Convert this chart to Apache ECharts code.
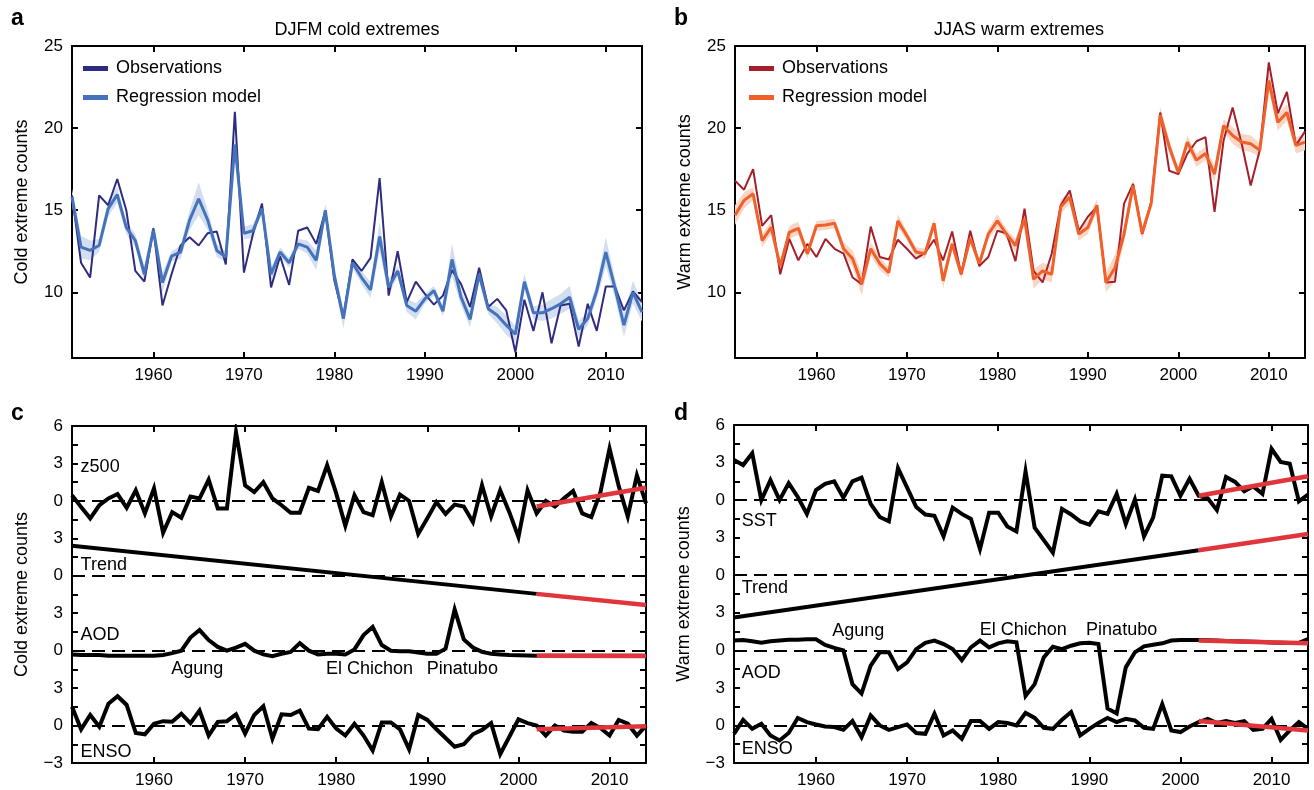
<!DOCTYPE html>
<html><head><meta charset="utf-8">
<script src="https://cdn.jsdelivr.net/npm/echarts@6/dist/echarts.min.js"></script>
<style>html,body{margin:0;padding:0;background:#fff}#c{width:1314px;height:790px}</style>
</head><body><div id="c"></div>
<script>
const FONT = "'Liberation Sans', Arial, Helvetica, sans-serif";
const years = []; for (let y = 1951; y <= 2014; y++) years.push(y);
const xTicks = [1960, 1970, 1980, 1990, 2000, 2010];
const abTicks = [10, 15, 20, 25];
const cdTickLabels = ['−3', '0', '3', '0', '3', '0', '3', '0', '3', '6'];

// Panel a: DJFM cold extremes
const coldObs = [15.9,11.8,10.9,15.9,15.3,16.9,15.0,11.3,10.65,13.9,
 9.2,11.1,12.85,13.35,12.85,13.6,13.7,11.7,21.0,11.2,
 13.55,15.4,10.3,12.2,10.45,13.75,13.95,12.95,14.95,10.7,
 8.5,12.0,11.3,12.1,16.95,9.8,12.5,9.4,10.65,9.9,
 9.25,9.8,11.35,10.5,9.1,11.5,9.1,9.6,8.9,6.35,
 9.55,7.65,10.0,6.9,9.2,9.3,6.7,9.3,7.65,10.35,
 10.35,8.9,10.05,9.4];
const coldReg = [15.8,12.75,12.55,12.85,15.1,15.95,13.95,13.15,11.1,13.8,
 10.6,12.2,12.45,14.4,15.7,14.4,12.55,12.15,19.0,13.6,
 13.75,15.1,11.1,12.45,11.8,12.95,12.75,11.95,15.0,11.0,
 8.4,11.8,10.9,10.15,13.4,10.3,11.3,9.2,8.85,9.6,
 10.1,8.85,12.0,9.7,8.35,11.1,9.0,8.6,8.0,7.45,
 10.65,8.75,8.75,9.0,9.3,9.7,7.75,8.4,10.1,12.45,
 10.3,8.0,10.0,8.8];
const coldUnc = [0.5,0.7,0.6,0.4,0.5,0.5,0.4,0.4,0.5,0.3,
 0.6,0.3,0.4,0.6,1.0,0.6,0.4,0.3,0.6,0.4,
 0.4,0.3,0.4,0.3,0.3,0.3,0.4,0.6,0.4,0.4,
 0.6,0.3,0.4,0.5,0.9,0.5,0.3,0.4,0.5,0.3,
 0.3,0.3,1.0,0.5,0.5,0.4,0.3,0.5,0.6,0.5,
 0.5,0.4,0.5,0.6,0.6,0.7,0.5,0.4,0.5,0.9,
 0.6,0.7,0.7,0.6];

// Panel b: JJAS warm extremes
const warmObs = [16.8,16.25,17.5,14.05,14.7,11.1,13.25,11.95,12.95,12.15,
 13.25,12.65,12.35,10.9,10.5,14.0,12.15,12.0,13.2,12.65,
 12.05,12.4,13.2,11.95,13.7,11.1,13.75,11.6,12.15,13.75,
 13.6,11.9,15.1,11.3,10.6,12.35,15.3,16.2,13.75,14.6,
 15.2,10.6,10.65,15.4,16.6,13.55,15.5,20.95,17.4,17.2,
 18.45,19.2,19.45,14.9,19.25,21.25,19.05,16.5,18.65,24.0,
 20.9,22.2,18.95,19.8];
const warmReg = [14.7,15.6,16.0,13.15,13.95,11.6,13.65,13.9,12.35,14.05,
 14.1,14.2,12.65,12.05,10.5,12.65,11.75,11.2,14.35,13.45,
 12.45,12.35,14.2,10.7,12.95,11.1,13.3,11.75,13.55,14.35,
 13.55,12.85,14.5,10.8,11.3,11.1,15.2,15.8,13.55,13.95,
 15.3,10.6,11.5,13.55,16.5,13.6,15.4,20.8,18.85,17.3,
 19.15,18.05,18.45,17.2,20.15,19.55,19.15,19.05,18.65,22.9,
 20.35,20.95,18.95,19.15];
const warmUnc = [0.6,0.5,0.4,0.4,0.4,0.3,0.4,0.4,0.3,0.3,
 0.3,0.3,0.4,0.5,0.7,0.4,0.4,0.3,0.4,0.3,
 0.3,0.3,0.3,0.5,0.3,0.3,0.3,0.3,0.3,0.4,
 0.3,0.4,0.4,0.6,0.5,0.5,0.4,0.4,0.4,0.4,
 0.4,0.6,0.8,0.5,0.4,0.4,0.3,0.5,0.4,0.3,
 0.4,0.4,0.4,0.5,0.4,0.5,0.5,0.5,0.4,0.6,
 0.5,0.5,0.5,0.5];

// Panel c: cold-extreme contributions
const cZ500 = [0.45,-0.5,-1.4,-0.35,0.2,0.55,-0.55,0.85,-1.0,1.0,
 -2.55,-0.9,-1.35,0.35,0.2,1.7,-0.6,-0.6,5.5,1.25,
 0.7,1.5,0.2,-0.35,-0.95,-0.95,1.05,0.8,2.85,0.6,
 -2.0,0.45,-0.9,-1.15,1.5,-1.25,0.5,0.0,-2.65,-1.4,
 -0.1,-1.05,-0.3,-0.45,-1.7,1.25,-1.25,0.85,-0.9,-2.9,
 0.85,-1.0,0.0,-0.45,0.2,0.8,-1.0,-1.3,0.7,4.2,
 1.2,-1.25,2.05,-0.2];
const cAOD = [-0.3,-0.35,-0.35,-0.35,-0.4,-0.4,-0.4,-0.4,-0.4,-0.4,
 -0.35,-0.2,0.0,1.05,1.65,0.85,0.3,0.0,0.25,0.55,
 0.0,-0.3,-0.45,-0.25,-0.1,0.6,0.0,-0.3,-0.25,-0.25,
 -0.3,0.1,1.25,1.9,0.45,0.0,-0.05,-0.05,-0.15,-0.25,
 -0.25,0.15,3.3,0.9,0.25,-0.1,-0.25,-0.3,-0.35,-0.37,
 -0.38,-0.4,-0.4,-0.4,-0.4,-0.4,-0.4,-0.4,-0.4,-0.4,
 -0.4,-0.4,-0.4,-0.4];
const cENSO = [1.5,-0.3,0.85,-0.1,1.75,2.35,1.65,-0.6,-0.7,0.15,
 0.35,0.3,0.95,0.2,1.2,-0.8,0.3,0.35,0.9,-0.65,
 0.85,1.55,-1.05,0.9,0.85,1.2,-0.25,-0.3,0.7,-0.25,
 -0.8,0.15,-0.8,-2.0,0.25,0.25,-0.3,-1.9,0.85,0.45,
 -0.3,-1.0,-1.7,-1.5,-0.7,-0.35,0.2,-2.3,-0.9,0.5,
 0.2,0.0,-0.8,0.0,-0.4,-0.5,-0.5,0.2,-0.2,-0.8,
 0.45,0.15,-0.8,0.0];
const cTrend = [[1951, 2.4], [2002, -1.45]];
const cTrendFit = [[2002, -1.45], [2014, -2.35]];
const cZ500Fit = [[2002, -0.45], [2014, 1.05]];
const cAODFit = [[2002, -0.4], [2014, -0.42]];
const cENSOFit = [[2002, -0.3], [2014, -0.05]];

// Panel d: warm-extreme contributions
const dSST = [3.2,2.8,3.75,0.0,1.6,0.0,1.35,0.25,-1.1,0.8,
 1.3,1.5,0.2,1.5,1.8,-0.3,-1.35,-1.7,2.55,1.0,
 -0.55,-1.15,-1.25,-2.9,-0.6,-1.1,-1.5,-3.9,-1.0,-1.0,
 -2.1,-2.5,2.3,-2.2,-3.2,-4.2,-0.7,-1.15,-1.7,-1.95,
 -0.9,-1.1,0.5,-1.9,0.05,-2.9,-1.4,1.95,1.9,0.35,
 1.7,0.35,0.15,-0.8,1.85,1.45,0.7,1.1,0.5,4.1,
 3.05,2.9,-0.1,0.45];
const dAOD = [0.78,0.83,0.72,0.6,0.72,0.78,0.85,0.85,0.88,0.88,
 0.43,0.19,0.0,-2.7,-3.45,-1.23,-0.16,-0.16,-1.5,-0.96,
 0.1,0.6,0.78,0.5,0.1,-0.78,0.24,0.78,0.24,0.56,
 0.72,0.64,-3.64,-2.7,-0.56,0.29,0.1,0.37,0.56,0.6,
 0.5,-4.65,-5.05,-1.36,-0.16,0.32,0.45,0.56,0.78,0.83,
 0.83,0.83,0.8,0.78,0.75,0.72,0.7,0.68,0.66,0.62,
 0.6,0.58,0.6,0.9];
const dENSO = [-0.67,0.45,-0.27,0.13,-0.8,-1.2,-0.6,0.6,0.27,0.08,
 -0.08,-0.13,-0.35,0.35,-0.94,0.8,0.0,-0.35,-0.13,0.08,
 -0.6,-0.67,0.94,-0.8,-0.4,-1.07,0.35,0.35,-0.27,0.27,
 0.19,0.0,1.0,0.6,-0.19,-0.27,0.45,1.07,-0.8,-0.27,
 0.19,0.6,0.27,0.53,0.4,-0.19,-0.27,1.7,-0.4,-0.53,
 -0.08,0.27,0.53,0.19,0.35,0.19,0.35,-0.35,-0.27,0.53,
 -1.15,-0.4,0.27,-0.27];
const dTrend = [[1951, -3.37], [2002, 2.0]];
const dTrendFit = [[2002, 2.0], [2014, 3.3]];
const dSSTFit = [[2002, 0.35], [2014, 1.9]];
const dAODFit = [[2002, 0.78], [2014, 0.56]];
const dENSOFit = [[2002, 0.35], [2014, -0.4]];

// vertical offsets of the stacked components (axis units)
const OFF_TOP = 18, OFF_TREND = 12, OFF_AOD = 6, OFF_ENSO = 0;

const cNotes = [
  {text:'z500', x:1952.0, y:20.7, align:'left'},
  {text:'Trend', x:1952.0, y:12.8, align:'left'},
  {text:'AOD', x:1952.0, y:7.2, align:'left'},
  {text:'Agung', x:1964.8, y:4.5, align:'center'},
  {text:'El Chichon', x:1983.7, y:4.5, align:'center'},
  {text:'Pinatubo', x:1993.9, y:4.5, align:'center'},
  {text:'ENSO', x:1952.0, y:-2.15, align:'left'}
];
const dNotes = [
  {text:'SST', x:1951.9, y:16.3, align:'left'},
  {text:'Trend', x:1951.9, y:10.9, align:'left'},
  {text:'Agung', x:1964.7, y:7.5, align:'center'},
  {text:'El Chichon', x:1982.8, y:7.55, align:'center'},
  {text:'Pinatubo', x:1993.6, y:7.55, align:'center'},
  {text:'AOD', x:1951.9, y:4.15, align:'left'},
  {text:'ENSO', x:1951.9, y:-1.95, align:'left'}
];
const legendNames = {obsA:'Observations', regA:'Regression model', obsB:'Observations', regB:'Regression model'};

const COL = {
  obsA:'#2e2c7f', regA:'#4473bc', bandA:'#d3dff0',
  obsB:'#a41f2a', regB:'#f0602a', bandB:'#fad6c6',
  black:'#000000', red:'#e0363b'
};

const grids = [
  {left:72, top:46, width:570, height:312},
  {left:735, top:46, width:570, height:312},
  {left:72, top:426, width:574, height:337},
  {left:734, top:425, width:574, height:338}
];

function lineSt(){ return {color:'#000', width:2}; }
function xPair(gi){
  const mk = (pos, lab) => ({
    type:'value', gridIndex:gi, position:pos, min:1951, max:2014,
    splitLine:{show:false},
    axisLine:{show:true, onZero:false, lineStyle:lineSt()},
    axisTick:{show:true, inside:true, length:6, customValues:xTicks, lineStyle:lineSt()},
    axisLabel: lab ? {show:true, customValues:xTicks, color:'#000', fontSize:17, fontFamily:FONT, margin:9, formatter: v => String(v)} : {show:false}
  });
  return [mk('bottom', true), mk('top', false)];
}
function yPairAB(gi, name){
  const mk = (pos, lab) => ({
    type:'value', gridIndex:gi, position:pos, min:6, max:25,
    splitLine:{show:false},
    axisLine:{show:true, onZero:false, lineStyle:lineSt()},
    axisTick:{show:true, inside:true, length:6, customValues:abTicks, lineStyle:lineSt()},
    axisLabel: lab ? {show:true, customValues:abTicks, color:'#000', fontSize:17, fontFamily:FONT, margin:9} : {show:false},
    name: lab ? name : '', nameLocation:'middle', nameGap:41,
    nameTextStyle:{color:'#000', fontSize:18, fontFamily:FONT}
  });
  return [mk('left', true), mk('right', false)];
}
function cdLabel(v){
  const k = v / 3;
  if (Math.abs(k - Math.round(k)) > 1e-6) return '';
  return cdTickLabels[Math.round(k) + 1] || '';
}
function yPairCD(gi, name){
  const mk = (pos, lab) => ({
    type:'value', gridIndex:gi, position:pos, min:-3, max:24, interval:1.5,
    splitLine:{show:false},
    axisLine:{show:true, onZero:false, lineStyle:lineSt()},
    axisTick:{show:true, inside:true, length:6, lineStyle:lineSt()},
    axisLabel: lab ? {show:true, color:'#000', fontSize:17, fontFamily:FONT, margin:9, formatter:cdLabel, showMinLabel:true, showMaxLabel:true} : {show:false},
    name: lab ? name : '', nameLocation:'middle', nameGap:41,
    nameTextStyle:{color:'#000', fontSize:18, fontFamily:FONT}
  });
  return [mk('left', true), mk('right', false)];
}

function pair(arr, off){ return arr.map((v, i) => [years[i], v + off]); }
function pts(arr, off){ return arr.map(p => [p[0], p[1] + off]); }

const series = [];
function topPanel(gi, obs, reg, unc, key, colObs, colReg, colBand){
  series.push({type:'custom', xAxisIndex:2*gi, yAxisIndex:2*gi, silent:true, z:1,
    data:[[years[0], reg[0]]],
    renderItem: function(params, api){
      const upper = years.map((y, i) => api.coord([y, reg[i] + unc[i]]));
      const lower = years.map((y, i) => api.coord([y, reg[i] - unc[i]])).reverse();
      return {type:'polygon', shape:{points: upper.concat(lower)}, style:{fill:colBand}};
    }});
  series.push({type:'line', name:'obs'+key, xAxisIndex:2*gi, yAxisIndex:2*gi, symbol:'none', showSymbol:false,
    data: pair(obs, 0), lineStyle:{color:colObs, width:2}, itemStyle:{color:colObs}, z:3});
  series.push({type:'line', name:'reg'+key, xAxisIndex:2*gi, yAxisIndex:2*gi, symbol:'none', showSymbol:false,
    data: pair(reg, 0), lineStyle:{color:colReg, width:3}, itemStyle:{color:colReg}, z:4});
}
topPanel(0, coldObs, coldReg, coldUnc, 'A', COL.obsA, COL.regA, COL.bandA);
topPanel(1, warmObs, warmReg, warmUnc, 'B', COL.obsB, COL.regB, COL.bandB);

function blk(gi, data, z){
  return {type:'line', xAxisIndex:2*gi, yAxisIndex:2*gi, symbol:'none', data:data, silent:true,
    lineStyle:{color:COL.black, width:4, join:'miter', miterLimit:8}, z:z||3};
}
function red(gi, data){
  return {type:'line', xAxisIndex:2*gi, yAxisIndex:2*gi, symbol:'none', data:data, silent:true,
    lineStyle:{color:COL.red, width:4.5, cap:'butt'}, z:5};
}
function bottomPanel(gi, top, topFit, trend, trendFit, aod, aodFit, enso, ensoFit, notes){
  series.push({type:'line', xAxisIndex:2*gi, yAxisIndex:2*gi, data:[], symbol:'none', silent:true, z:1,
    markLine:{silent:true, symbol:'none', label:{show:false}, animation:false,
      lineStyle:{color:'#000', width:2, type:[13,7]},
      data:[{yAxis:OFF_ENSO},{yAxis:OFF_AOD},{yAxis:OFF_TREND},{yAxis:OFF_TOP}]}});
  series.push(blk(gi, pair(top, OFF_TOP)));
  series.push(blk(gi, pts(trend, OFF_TREND)));
  series.push(blk(gi, pair(aod, OFF_AOD)));
  series.push(blk(gi, pair(enso, OFF_ENSO)));
  series.push(red(gi, pts(topFit, OFF_TOP)));
  series.push(red(gi, pts(trendFit, OFF_TREND)));
  series.push(red(gi, pts(aodFit, OFF_AOD)));
  series.push(red(gi, pts(ensoFit, OFF_ENSO)));
  series.push({type:'scatter', xAxisIndex:2*gi, yAxisIndex:2*gi, symbolSize:1, silent:true, z:6,
    itemStyle:{color:'rgba(0,0,0,0)'},
    data: notes.map(n => ({name:n.text, value:[n.x, n.y], label:{align:n.align}})),
    label:{show:true, position:[0, 0], formatter:'{b}', color:'#000', opacity:1, fontSize:18, fontFamily:FONT,
      verticalAlign:'middle', textBorderWidth:0}});
}
bottomPanel(2, cZ500, cZ500Fit, cTrend, cTrendFit, cAOD, cAODFit, cENSO, cENSOFit, cNotes);
bottomPanel(3, dSST, dSSTFit, dTrend, dTrendFit, dAOD, dAODFit, dENSO, dENSOFit, dNotes);

function gtext(x, y, text, font, align){
  return {type:'text', x:x, y:y, silent:true,
    style:{text:text, font:font, fill:'#000', textAlign:align||'left', textVerticalAlign:'middle', align:align||'left', verticalAlign:'middle'}};
}
function legendCfg(keys, left, cols){
  return {data: keys.map((k, i) => ({name:k, icon:'rect', itemStyle:{color:cols[i]}})),
    left:left, top:58, orient:'vertical', padding:0, itemWidth:25, itemHeight:5, itemGap:8,
    formatter:n => legendNames[n], selectedMode:false,
    textStyle:{color:'#000', fontSize:18, lineHeight:21, fontFamily:FONT, padding:[0,0,0,3]}};
}

const option = {
  animation:false,
  backgroundColor:'#fff',
  grid: grids,
  xAxis: [].concat(xPair(0), xPair(1), xPair(2), xPair(3)),
  yAxis: [].concat(yPairAB(0, 'Cold extreme counts'), yPairAB(1, 'Warm extreme counts'),
                   yPairCD(2, 'Cold extreme counts'), yPairCD(3, 'Warm extreme counts')),
  legend: [
    legendCfg(['obsA','regA'], 83, [COL.obsA, COL.regA]),
    legendCfg(['obsB','regB'], 749, [COL.obsB, COL.regB])
  ],
  graphic: [
    gtext(357, 30, 'DJFM cold extremes', "18px 'Liberation Sans', Arial, sans-serif", 'center'),
    gtext(1019, 30, 'JJAS warm extremes', "18px 'Liberation Sans', Arial, sans-serif", 'center'),
    gtext(11, 19, 'a', "bold 23px 'Liberation Sans', Arial, sans-serif"),
    gtext(674, 19, 'b', "bold 23px 'Liberation Sans', Arial, sans-serif"),
    gtext(11, 414, 'c', "bold 23px 'Liberation Sans', Arial, sans-serif"),
    gtext(674, 414, 'd', "bold 23px 'Liberation Sans', Arial, sans-serif")
  ],
  series: series
};
const chart = echarts.init(document.getElementById('c'), null, {renderer:'canvas'});
chart.setOption(option);
</script>
</body></html>
